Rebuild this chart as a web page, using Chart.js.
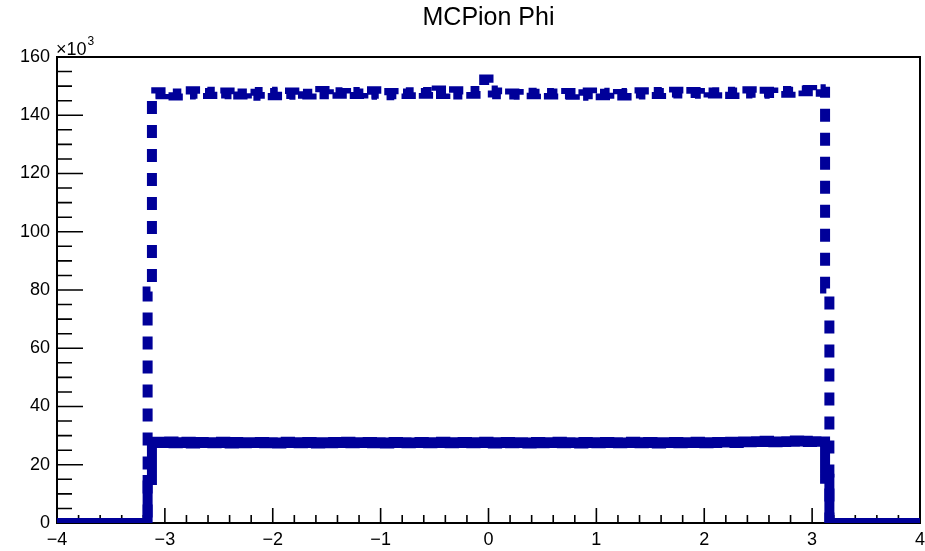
<!DOCTYPE html>
<html><head><meta charset="utf-8">
<script src="https://cdn.jsdelivr.net/npm/chart.js@4/dist/chart.umd.min.js"></script>
<style>html,body{margin:0;padding:0;background:#fff;}</style>
</head><body>
<canvas id="c" width="925" height="551"></canvas>
<script>
// ---------- data ----------
const chartTitle = 'MCPion Phi';
const yExponentLabel = '\u00d710';
const yExponent = '3';
// histogram binning: 200 bins from -4 to 4
const binLow = -4;
const binWidth = 0.04;
const xTickValues = [-4, -3, -2, -1, 0, 1, 2, 3, 4];
const yTickValues = [0, 20, 40, 60, 80, 100, 120, 140, 160];

// empty bins below -3.16 and above 3.16 (21 each)
const underflowZeros = [0,0,0,0,0,0,0, 0,0,0,0,0,0,0, 0,0,0,0,0,0,0];
const overflowZeros  = [0,0,0,0,0,0,0, 0,0,0,0,0,0,0, 0,0,0,0,0,0,0];

// dashed histogram (x10^3), full bins from -3.12 to 3.12
const dashedCore = [
147.5,147.9,147.2,147.4,148.0,146.8,147.5,147.7,147.1,148.2,147.4,146.9,
147.6,147.3,148.1,147.0,147.5,147.8,147.2,148.4,147.1,147.5,147.9,146.7,
147.4,148.0,147.2,147.6,146.9,148.1,147.5,147.3,147.8,147.0,148.2,147.4,
147.1,147.7,147.5,148.3,147.2,146.8,147.9,147.4,147.6,147.1,148.0,147.3,
147.5,147.8,147.0,148.2,147.4,147.7,146.9,147.6,147.2,148.1,147.5,147.3,
147.9,147.1,147.6,147.4,148.0,147.2,148.5,147.3,147.8,147.5,148.2,147.1,
147.7,148.0,147.4,148.3,148.6,152.3,148.5,147.8,147.2,147.6,147.1,147.5,
147.3,147.0,147.5,147.7,147.2,147.4,146.9,147.6,147.1,147.5,146.8,147.3,
147.6,147.0,147.4,146.7,147.2,147.8,147.1,147.5,146.9,147.4,147.7,147.0,
147.3,146.8,147.6,147.2,147.5,147.9,147.1,147.4,148.0,147.3,147.6,147.2,
147.8,148.1,147.5,147.7,147.3,148.0,147.6,147.4,148.2,147.8,147.5,147.9,
147.6,148.1,147.3,147.8,148.0,147.5,148.2,147.7,147.9,147.4,148.1,147.8,
147.6,148.0,148.3,147.7,148.1,147.9,148.5,148.2,148.7,148.3,148.9,148.1
];
const dashedEdgeLow = 79.5;   // bin [-3.16,-3.12]
const dashedEdgeHigh = 80.5;  // bin [3.12,3.16]

// solid histogram (x10^3)
const solidCore = [
27.6,27.9,27.5,27.8,28.0,27.4,27.7,27.5,27.9,27.3,27.6,27.8,
27.5,27.7,27.4,27.6,27.9,27.5,27.3,27.8,27.6,27.4,27.7,27.5,
27.6,27.8,27.4,27.7,27.5,27.3,27.6,27.9,27.5,27.7,27.4,27.6,
27.8,27.5,27.3,27.7,27.6,27.4,27.8,27.5,27.6,27.9,27.4,27.7,
27.5,27.6,27.8,27.4,27.7,27.5,27.3,27.6,27.8,27.5,27.7,27.4,
27.6,27.5,27.8,27.6,27.4,27.7,27.5,27.9,27.6,27.4,27.7,27.5,
27.8,27.6,27.4,27.7,27.5,27.9,27.6,27.3,27.7,27.5,27.8,27.4,
27.6,27.7,27.5,27.3,27.6,27.8,27.4,27.7,27.5,27.6,27.9,27.4,
27.7,27.5,27.6,27.3,27.8,27.5,27.7,27.4,27.6,27.8,27.5,27.7,
27.4,27.6,27.5,27.9,27.7,27.4,27.6,27.8,27.5,27.3,27.7,27.6,
27.5,27.8,27.4,27.6,27.7,27.5,27.9,27.6,27.4,27.7,27.5,27.8,
27.6,27.7,27.9,27.5,27.8,28.0,27.7,27.9,28.1,27.8,28.2,27.9,
27.7,28.0,27.8,28.1,27.9,28.3,28.0,28.2,27.8,28.1,27.9,28.0
];
const solidEdgeLow = 14.8;
const solidEdgeHigh = 15.2;

const dashedCounts = [...underflowZeros, dashedEdgeLow, ...dashedCore, dashedEdgeHigh, ...overflowZeros];
const solidCounts  = [...underflowZeros, solidEdgeLow, ...solidCore, solidEdgeHigh, ...overflowZeros];

// ---------- build step points at bin low edges ----------
function toSteps(counts) {
  const pts = counts.map((v, i) => ({ x: binLow + i * binWidth, y: v }));
  pts.push({ x: binLow + counts.length * binWidth, y: counts[counts.length - 1] });
  return pts;
}

const FONT = "'Liberation Sans', Arial, Helvetica, sans-serif";
const HIST_COLOR = '#000099';

const rootAxes = {
  id: 'rootAxes',
  beforeDatasetsDraw(chart) {
    const { ctx, chartArea: a, scales: { x, y } } = chart;
    ctx.save();
    ctx.strokeStyle = '#000';
    ctx.lineWidth = 2;
    ctx.strokeRect(a.left, a.top, a.right - a.left, a.bottom - a.top);
    ctx.lineWidth = 1.6;
    ctx.beginPath();
    for (let i = 0; i <= 40; i++) {
      const v = xTickValues[0] + i * 0.2;
      const px = x.getPixelForValue(v);
      const major = i % 5 === 0;
      ctx.moveTo(px, a.bottom);
      ctx.lineTo(px, a.bottom - (major ? 15 : 8));
    }
    for (let i = 0; i <= 32; i++) {
      const v = i * 5;
      const py = y.getPixelForValue(v);
      const major = i % 4 === 0;
      ctx.moveTo(a.left, py);
      ctx.lineTo(a.left + (major ? 26 : 15), py);
    }
    ctx.stroke();
    ctx.restore();
  },
  afterDraw(chart) {
    const { ctx, chartArea: a } = chart;
    ctx.save();
    ctx.fillStyle = '#000';
    ctx.textBaseline = 'alphabetic';
    ctx.textAlign = 'left';
    ctx.font = '18px ' + FONT;
    ctx.fillText(yExponentLabel, a.left - 1, a.top - 2);
    const w = ctx.measureText(yExponentLabel).width;
    ctx.font = '12px ' + FONT;
    ctx.fillText(yExponent, a.left + w, a.top - 12);
    ctx.restore();
  }
};

const minus = v => String(v).replace('-', '\u2212');

new Chart(document.getElementById('c'), {
  type: 'line',
  data: {
    datasets: [
      {
        data: toSteps(solidCounts),
        borderColor: HIST_COLOR,
        borderWidth: 10,
        stepped: true,
        pointRadius: 0,
        fill: false,
        borderCapStyle: 'butt',
        borderJoinStyle: 'miter'
      },
      {
        data: toSteps(dashedCounts),
        borderColor: HIST_COLOR,
        borderWidth: 10,
        borderDash: [13, 11],
        stepped: true,
        pointRadius: 0,
        fill: false,
        borderCapStyle: 'butt',
        borderJoinStyle: 'miter'
      }
    ]
  },
  options: {
    responsive: false,
    devicePixelRatio: 1,
    animation: false,
    layout: { padding: { left: 0, right: 5, top: 0, bottom: 0 } },
    plugins: {
      legend: { display: false },
      tooltip: { enabled: false },
      title: {
        display: true,
        fullSize: false,
        text: chartTitle,
        color: '#000',
        font: { family: FONT, size: 25, weight: 'normal' },
        padding: { top: 3, bottom: 24 }
      }
    },
    scales: {
      x: {
        type: 'linear',
        min: xTickValues[0],
        max: xTickValues[xTickValues.length - 1],
        afterBuildTicks: s => { s.ticks = xTickValues.map(v => ({ value: v })); },
        ticks: {
          autoSkip: false, maxRotation: 0, padding: 6,
          color: '#000', font: { family: FONT, size: 18 },
          callback: v => minus(v)
        },
        grid: { display: false, drawTicks: false },
        border: { display: false },
        afterFit: s => { s.height = 28; s.paddingLeft = 0; s.paddingRight = 0; }
      },
      y: {
        min: yTickValues[0],
        max: yTickValues[yTickValues.length - 1],
        afterBuildTicks: s => { s.ticks = yTickValues.map(v => ({ value: v })); },
        ticks: {
          autoSkip: false, padding: 7,
          color: '#000', font: { family: FONT, size: 18 }
        },
        grid: { display: false, drawTicks: false },
        border: { display: false },
        afterFit: s => { s.width = 57; s.paddingTop = 0; s.paddingBottom = 0; }
      }
    }
  },
  plugins: [rootAxes]
});
</script>
</body></html>
